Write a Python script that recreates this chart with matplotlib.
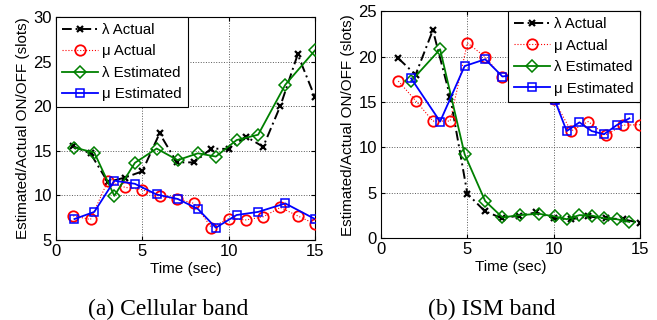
import numpy as np
import matplotlib
matplotlib.use("Agg")
import matplotlib.pyplot as plt

plt.rcParams['font.family'] = ['Liberation Sans', 'DejaVu Sans']

# (a) Cellular band
t_actual = np.arange(1, 16)
lam_act_cell = [15.5, 14.7, 11.5, 12.0, 12.7, 16.95, 13.7, 13.7, 15.25, 15.2,
                16.6, 15.45, 20.05, 25.8, 21.0]
mu_act_cell = [7.7, 7.3, 11.6, 10.9, 10.65, 9.9, 9.6, 9.1, 6.4, 7.4,
               7.25, 7.6, 8.65, 7.7, 6.8]
t_est_cell = [1.07, 2.22, 3.38, 4.57, 5.83, 7.05, 8.22, 9.26, 10.46, 11.71,
              13.28, 15.0]
lam_est_cell = [15.35, 14.8, 9.95, 13.65, 15.25, 13.95, 14.72, 14.35, 16.2,
                16.8, 22.4, 26.25]
mu_est_cell = [7.35, 8.15, 11.65, 11.3, 10.1, 9.6, 8.48, 6.38, 7.8, 8.15,
               9.1, 7.35]

# (b) ISM band
lam_act_ism = [19.8, 18.0, 22.9, 15.6, 4.9, 3.0, 2.2, 2.5, 2.85, 2.2,
               2.1, 2.4, 2.2, 2.1, 1.7]
mu_act_ism = [17.3, 15.15, 12.9, 12.9, 21.5, 20.0, 17.8, 17.9, 17.5, 15.3,
              11.8, 12.85, 11.35, 12.45, 12.5]
t_est_ism = [1.74, 3.42, 4.84, 6.03, 7.03, 8.05, 9.15, 10.06, 10.75, 11.49,
             12.2, 12.91, 13.65, 14.38]
lam_est_ism = [17.3, 20.8, 9.25, 4.1, 2.3, 2.55, 2.7, 2.4, 2.1, 2.55,
               2.5, 2.2, 2.1, 1.8]
mu_est_ism = [17.6, 12.85, 18.95, 19.7, 17.8, 18.1, 17.6, 15.2, 11.8, 12.76,
              11.8, 11.45, 12.45, 13.2]

GREEN = '#008000'


def draw_panel(ax, lam_act, mu_act, t_est, lam_est, mu_est, ylim, yticks,
               legend_loc, legend_anchor):
    ax.plot(t_actual, lam_act, color='k', linestyle=(0, (5, 2, 1, 2)),
            linewidth=1.4, marker='x', markersize=5, markeredgewidth=1.6,
            label='\u03bb Actual', zorder=3)
    ax.plot(t_actual, mu_act, color='r', linestyle=':', linewidth=0.8,
            marker='o', markersize=7.5, markerfacecolor='none',
            markeredgewidth=1.3, label='\u03bc Actual', zorder=3)
    ax.plot(t_est, lam_est, color=GREEN, linestyle='-', linewidth=1.3,
            marker='D', markersize=6, markerfacecolor='none',
            markeredgewidth=1.1, label='\u03bb Estimated', zorder=4)
    ax.plot(t_est, mu_est, color='b', linestyle='-', linewidth=1.3,
            marker='s', markersize=5.5, markerfacecolor='none',
            markeredgewidth=1.1, label='\u03bc Estimated', zorder=4)

    ax.set_xlim(0, 15)
    ax.set_ylim(*ylim)
    ax.set_xticks([0, 5, 10, 15])
    ax.set_yticks(yticks)
    ax.grid(True, linestyle=':', color='0.35', linewidth=0.7)
    ax.tick_params(direction='in', top=True, right=True, labelsize=12,
                   length=3, pad=3)
    for s in ax.spines.values():
        s.set_linewidth(0.8)
    ax.set_xlabel('Time (sec)', fontsize=11, labelpad=2)
    ax.set_ylabel('Estimated/Actual ON/OFF (slots)', fontsize=11, labelpad=2)

    leg = ax.legend(loc=legend_loc, bbox_to_anchor=legend_anchor,
                    borderaxespad=0, fontsize=10.8, fancybox=False,
                    framealpha=1, edgecolor='k', handlelength=2.4,
                    handletextpad=0.3, labelspacing=0.5, borderpad=0.4)
    leg.get_frame().set_linewidth(0.8)
    leg.set_zorder(10)


fig = plt.figure(figsize=(6.57, 3.2), dpi=100)
ax1 = fig.add_axes([0.0852, 0.25, 0.3942, 0.697])
ax2 = fig.add_axes([0.580, 0.2553, 0.3942, 0.710])

draw_panel(ax1, lam_act_cell, mu_act_cell, t_est_cell, lam_est_cell,
           mu_est_cell, (5, 30), [5, 10, 15, 20, 25, 30],
           'upper left', (0, 1))
draw_panel(ax2, lam_act_ism, mu_act_ism, t_est_ism, lam_est_ism,
           mu_est_ism, (0, 25), [0, 5, 10, 15, 20, 25],
           'upper right', (1, 1))

fig.text(0.256, 5 / 320, '(a) Cellular band', family='Liberation Serif',
         fontsize=17, ha='center', va='baseline')
fig.text(0.749, 5 / 320, '(b) ISM band', family='Liberation Serif',
         fontsize=17, ha='center', va='baseline')

fig.savefig('out.png', dpi=100)
